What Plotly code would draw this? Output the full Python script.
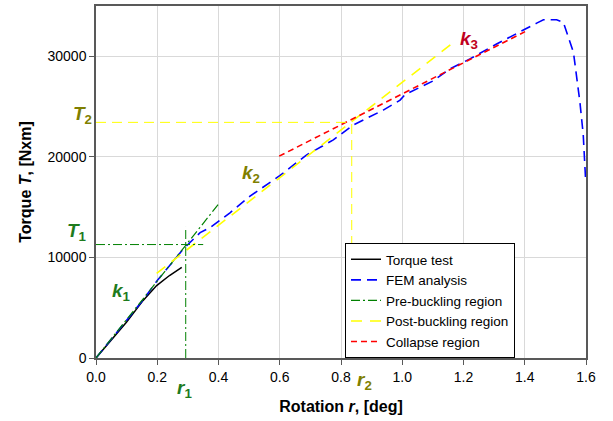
import plotly.graph_objects as go

# Torque test (experimental)
test_r = [0.0, 0.05, 0.10, 0.154, 0.198, 0.24, 0.28]
test_T = [0, 1800, 3580, 5730, 7200, 8200, 9010]

# FEM analysis
fem_r = [0.0, 0.05, 0.10, 0.154, 0.20, 0.25, 0.285, 0.34, 0.372, 0.4375, 0.503, 0.60, 0.688, 0.775,
         0.840, 0.938, 0.993, 1.009, 1.10, 1.156, 1.221, 1.308, 1.374, 1.439, 1.461, 1.504, 1.526,
         1.559, 1.580, 1.591, 1.599]
fem_T = [0, 1900, 3800, 5790, 7700, 9500, 10830, 12470, 12960, 14440, 16090, 18130, 20200, 21690,
         23170, 24650, 25640, 26190, 27540, 28750, 29740, 31220, 32310, 33300, 33630, 33630, 33370,
         30400, 25470, 22200, 17570]

# Pre-buckling region (k1)
pre_r = [0.0, 0.40]
pre_T = [0, 15300]
# Post-buckling region (k2)
post_r = [0.198, 1.161]
post_T = [8420, 31220]
# Collapse region (k3)
col_r = [0.598, 1.401]
col_T = [20070, 32450]

# Guide lines
r1, T1 = 0.293, 11280
r2, T2 = 0.835, 23430
T1_line_r = [0.0, 0.35]
r1_line_T = [0, 13030]

GREEN = "#1e7b1e"
OLIVE = "#7f7f00"
DRED = "#c00020"
FONT = "Liberation Sans, Arial"

fig = go.Figure()

fig.add_trace(go.Scatter(x=test_r, y=test_T, mode="lines", name="Torque test",
                         line=dict(color="black", width=1.5)))
fig.add_trace(go.Scatter(x=fem_r, y=fem_T, mode="lines", name="FEM analysis",
                         line=dict(color="#0000ff", width=1.6, dash="10px,6px")))
fig.add_trace(go.Scatter(x=pre_r, y=pre_T, mode="lines", name="Pre-buckling region",
                         line=dict(color="#008000", width=1.2, dash="9px,3px,2px,3px")))
fig.add_trace(go.Scatter(x=post_r, y=post_T, mode="lines", name="Post-buckling region",
                         line=dict(color="#ffff00", width=1.6, dash="11px,8px")))
fig.add_trace(go.Scatter(x=col_r, y=col_T, mode="lines", name="Collapse region",
                         line=dict(color="#ff0000", width=1.6, dash="6px,4px")))

# guide lines (not in legend)
fig.add_trace(go.Scatter(x=T1_line_r, y=[T1, T1], mode="lines", showlegend=False, hoverinfo="skip",
                         line=dict(color="#008000", width=1, dash="9px,3px,2px,3px")))
fig.add_trace(go.Scatter(x=[r1, r1], y=r1_line_T, mode="lines", showlegend=False, hoverinfo="skip",
                         line=dict(color="#008000", width=1, dash="9px,3px,2px,3px")))
fig.add_trace(go.Scatter(x=[0.0, r2], y=[T2, T2], mode="lines", showlegend=False, hoverinfo="skip",
                         line=dict(color="#ffff00", width=1, dash="10px,6px")))
fig.add_trace(go.Scatter(x=[r2, r2], y=[0, T2], mode="lines", showlegend=False, hoverinfo="skip",
                         line=dict(color="#ffff00", width=1, dash="10px,6px")))

L, R, T, B = 96, 586, 4, 358

def lab(text, px, py, color):
    fig.add_annotation(text=text, x=(px - L) / (R - L), y=(B - py) / (B - T),
                       xref="paper", yref="paper", showarrow=False,
                       xanchor="center", yanchor="middle",
                       font=dict(family=FONT, size=19, color=color))

lab("<b><i>T</i><sub>1</sub></b>", 77, 231, GREEN)
lab("<b><i>k</i><sub>1</sub></b>", 121, 292, GREEN)
lab("<b><i>r</i><sub>1</sub></b>", 184, 389, GREEN)
lab("<b><i>T</i><sub>2</sub></b>", 82, 114, OLIVE)
lab("<b><i>k</i><sub>2</sub></b>", 251, 173, OLIVE)
lab("<b><i>r</i><sub>2</sub></b>", 364, 381, OLIVE)
lab("<b><i>k</i><sub>3</sub></b>", 469, 38, DRED)

axis_common = dict(showline=True, linecolor="#595959", linewidth=1.5, mirror=True,
                   showgrid=True, gridcolor="#d9d9d9", gridwidth=1,
                   ticks="outside", ticklen=5, tickcolor="#595959",
                   tickfont=dict(family=FONT, size=14, color="black"),
                   zeroline=False)

fig.update_xaxes(range=[0, 1.6], dtick=0.2, tickformat=".1f",
                 title=dict(text="<b>Rotation <i>r</i>, [deg]</b>", standoff=17,
                            font=dict(family=FONT, size=16, color="black")),
                 **axis_common)
fig.update_yaxes(range=[0, 35000], dtick=10000, tickformat="d",
                 title=dict(text="<b>Torque <i>T</i>, [Nxm]</b>", standoff=12,
                            font=dict(family=FONT, size=16, color="black")),
                 **axis_common)

fig.update_layout(
    width=613, height=421,
    margin=dict(l=L, r=613 - R, t=T, b=421 - B),
    paper_bgcolor="white", plot_bgcolor="white",
    showlegend=True,
    legend=dict(x=(345 - L) / (R - L), y=0, xanchor="left", yanchor="bottom",
                bgcolor="white", bordercolor="black", borderwidth=1,
                font=dict(family=FONT, size=13.5, color="black"),
                tracegroupgap=0, itemwidth=30),
    font=dict(family=FONT),
)

fig.write_html("out.html")
